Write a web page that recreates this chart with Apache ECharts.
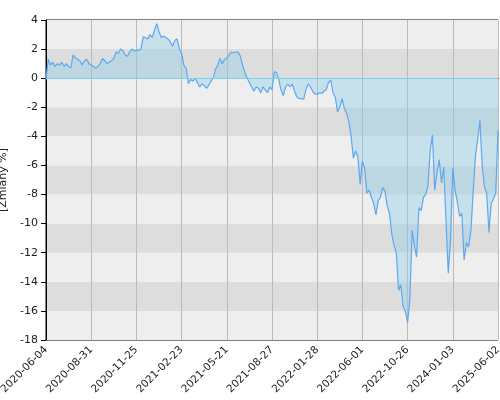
<!DOCTYPE html>
<html>
<head>
<meta charset="utf-8">
<script src="https://cdn.jsdelivr.net/npm/echarts@6/dist/echarts.min.js"></script>
<style>html,body{margin:0;padding:0;background:#fff}#chart{width:500px;height:400px}</style>
</head>
<body>
<div id="chart"></div>
<script>
// tick labels, one every 20 points
var tickLabels = ['2020-06-04','2020-08-31','2020-11-25','2021-02-23','2021-05-21','2021-08-27',
  '2022-01-28','2022-06-01','2022-10-26','2024-01-03','2025-06-02'];

// values, 20 per tick interval
var seg1 = [-0.1,1.3,0.9,1.1,0.8,1.0,0.9,1.1,0.8,1.0,0.8,0.7,1.6,1.4,1.3,1.2,0.9,1.2,1.3,1.0];
var seg2 = [0.9,0.8,0.7,0.8,1.0,1.35,1.2,1.0,1.1,1.2,1.35,1.8,1.7,2.0,1.9,1.6,1.5,1.8,2.0,1.9];
var seg3 = [1.9,1.95,2.0,2.85,2.8,2.7,3.0,2.8,3.3,3.75,3.2,2.8,2.9,2.8,2.7,2.5,2.2,2.6,2.7,2.0];
var seg4 = [1.7,0.9,0.7,-0.37,-0.1,-0.2,0.0,-0.3,-0.6,-0.4,-0.5,-0.7,-0.5,-0.2,0.0,0.6,0.9,1.35,1.0,1.3];
var seg5 = [1.35,1.6,1.8,1.75,1.8,1.8,1.5,0.9,0.4,0.0,-0.3,-0.6,-0.9,-0.6,-0.7,-1.0,-0.6,-0.8,-1.0,-0.6];
var seg6 = [-0.8,0.43,0.4,-0.1,-0.8,-1.2,-0.6,-0.4,-0.6,-0.4,-0.9,-1.3,-1.4,-1.4,-1.45,-0.8,-0.4,-0.6,-0.9,-1.1];
var seg7 = [-1.1,-1.0,-1.05,-0.9,-0.8,-0.3,-0.14,-1.0,-1.3,-2.3,-2.0,-1.4,-2.1,-2.4,-3.0,-4.0,-5.5,-5.0,-5.4,-7.3];
var seg8 = [-5.7,-6.2,-7.9,-7.7,-8.2,-8.6,-9.4,-8.4,-8.2,-7.5,-7.8,-8.8,-9.3,-10.7,-11.5,-12.0,-14.6,-14.2,-15.7,-16.0];
var seg9 = [-16.8,-15.2,-10.45,-11.5,-12.3,-8.9,-9.1,-8.2,-8.0,-7.4,-5.0,-3.9,-7.7,-6.5,-5.6,-7.2,-6.1,-9.8,-13.4,-11.1];
var seg10 = [-6.2,-7.7,-8.5,-9.5,-9.3,-12.5,-11.3,-11.6,-10.5,-7.9,-5.4,-4.2,-2.9,-6.0,-7.5,-7.9,-10.6,-8.6,-8.3,-7.9];
var lastValue = [-3.6];

var values = [].concat(seg1,seg2,seg3,seg4,seg5,seg6,seg7,seg8,seg9,seg10,lastValue);
var categories = values.map(function(v,i){ return i; });

var chart = echarts.init(document.getElementById('chart'));
chart.setOption({
  animation: false,
  grid: {left: 46, right: 2, top: 20, bottom: 60, show: true, borderColor: '#000', borderWidth: 1,
    containLabel: false, outerBoundsMode: 'none'},
  xAxis: {
    type: 'category',
    data: categories,
    boundaryGap: false,
    axisLine: {lineStyle: {color: '#000'}},
    axisTick: {show: false},
    axisLabel: {
      interval: 19, rotate: 45, color: '#222', fontSize: 10.5, fontFamily: 'DejaVu Sans',
      formatter: function(v){ return tickLabels[v / 20] || ''; }
    },
    splitLine: {show: true, interval: 19, lineStyle: {color: '#bbb'}}
  },
  yAxis: {
    type: 'value', min: -18, max: 4, interval: 2,
    name: '[Zmiany %]', nameLocation: 'middle', nameGap: 30,
    nameTextStyle: {color: '#222', fontSize: 11, fontFamily: 'DejaVu Sans'},
    axisLine: {show: true, lineStyle: {color: '#000'}},
    axisTick: {show: true, lineStyle: {color: '#000'}},
    axisLabel: {color: '#222', fontSize: 11, fontFamily: 'DejaVu Sans'},
    splitLine: {show: false},
    splitArea: {show: true, areaStyle: {color: ['#eeeeee', '#dddddd']}}
  },
  series: [{
    type: 'line',
    data: values,
    symbol: 'none',
    lineStyle: {color: '#5aa9f2', width: 1.2},
    areaStyle: {color: 'rgba(135,206,235,0.55)'},
    markLine: {
      silent: true, symbol: 'none', label: {show: false},
      lineStyle: {color: '#7fd0ea', type: 'solid', width: 1},
      data: [{yAxis: 0}]
    }
  }]
});
</script>
</body>
</html>
